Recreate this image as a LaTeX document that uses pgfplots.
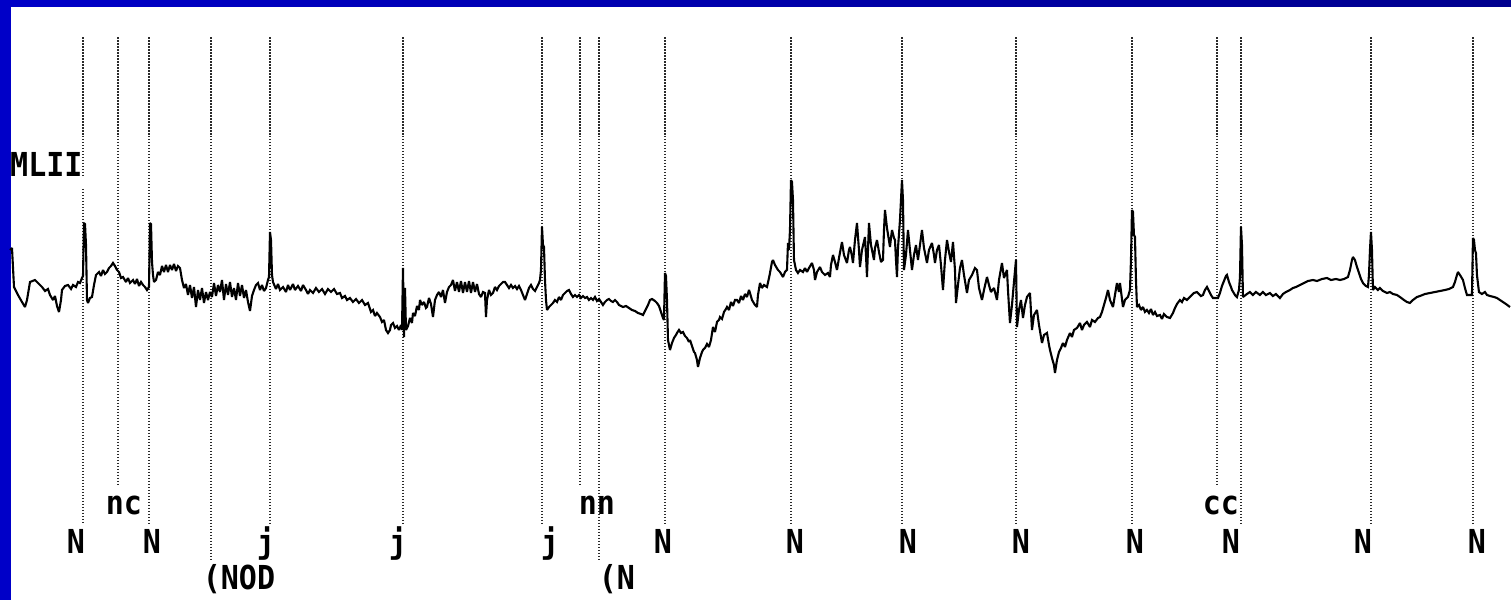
\documentclass[border=0pt]{standalone}
\usepackage{pgfplots}
\pgfplotsset{compat=1.18}
\usepackage{fontspec}
\newfontfamily\pix{DejaVu Sans Mono}
\definecolor{frameblue}{HTML}{0000C8}
\definecolor{framenavy}{HTML}{00008E}
\definecolor{dotgray}{HTML}{2A2A2A}
\newcommand{\lab}[1]{\scalebox{1}[1.1]{\pix\bfseries\fontsize{30}{30}\selectfont #1}}
\pgfplotsset{annot/.style={dotgray, line width=1.7pt, dash pattern=on 1.5pt off 1.5pt}}
\begin{document}
\begin{tikzpicture}
\begin{axis}[scale only axis, width=1511pt, height=600pt,
  xmin=0, xmax=1511, ymin=0, ymax=600, y dir=reverse,
  hide axis, clip=false]
\fill[white] (axis cs:0,0) rectangle (axis cs:1511,600);
\fill[frameblue] (axis cs:0,0) rectangle (axis cs:11,600);
\shade[left color=frameblue, right color=framenavy] (axis cs:0,0) rectangle (axis cs:1511,6);
% annotation lines
\addplot[annot] coordinates {(83,37) (83,177)};
\addplot[annot] coordinates {(83,189) (83,525)};
\addplot[annot] coordinates {(118,37) (118,487)};
\addplot[annot] coordinates {(149,37) (149,525)};
\addplot[annot] coordinates {(211,37) (211,562)};
\addplot[annot] coordinates {(270,37) (270,525)};
\addplot[annot] coordinates {(403,37) (403,525)};
\addplot[annot] coordinates {(542,37) (542,525)};
\addplot[annot] coordinates {(580,37) (580,487)};
\addplot[annot] coordinates {(599,37) (599,562)};
\addplot[annot] coordinates {(665,37) (665,525)};
\addplot[annot] coordinates {(791,37) (791,525)};
\addplot[annot] coordinates {(902,37) (902,525)};
\addplot[annot] coordinates {(1016,37) (1016,525)};
\addplot[annot] coordinates {(1132,37) (1132,525)};
\addplot[annot] coordinates {(1217,37) (1217,487)};
\addplot[annot] coordinates {(1241,37) (1241,525)};
\addplot[annot] coordinates {(1371,37) (1371,525)};
\addplot[annot] coordinates {(1473,37) (1473,525)};
% signal
\addplot[black, line width=2.1pt, line join=miter, miter limit=2] coordinates {
(10,250) (12,248) (14,287) (18,295) (22,302) (25,307) (27,300) (30,282) (35,280) (38,283) (42,287) (45,291) (48,289) (50,295) (53,300) (55,296) (57,306) (59,312) (61,300) (62,290) (65,286) (68,285) (71,289) (73,285) (76,287) (78,282) (80,283) (82,278) (83,276)
(84,223) (85,224) (86,245) (87,300) (88,303) (90,298) (92,297) (94,285) (96,275) (99,272) (101,276) (103,270) (105,274) (107,272) (109,268) (111,266) (113,263) (115,266) (117,270) (119,272) (121,278) (123,277) (126,282) (128,278) (130,283) (133,280) (135,284) (137,279) (139,286) (141,282) (143,285) (145,287) (147,290) (149,287)
(150,223) (151,224) (152,262) (153,275) (154,282) (156,280) (158,272) (160,275) (162,266) (164,272) (166,265) (168,272) (170,265) (172,270) (174,264) (176,271) (178,266) (180,268) (182,280) (184,288) (186,284) (188,295) (190,285) (192,298) (194,287) (196,307) (198,290) (200,300) (202,288) (204,303) (206,292) (208,300) (210,292) (212,297) (214,283) (216,296) (218,285) (220,292) (222,280) (224,300) (226,284) (228,295) (230,282) (232,297) (234,288) (236,300) (238,283) (240,296) (242,285) (244,298) (246,290) (248,302) (250,311) (252,296) (254,290) (256,285) (258,283) (260,290) (262,285) (264,291) (266,288) (268,280) (269,277)
(270,232) (271,240) (272,275) (273,282) (276,289) (278,284) (280,290) (283,287) (286,292) (288,285) (290,290) (293,284) (295,290) (298,286) (301,291) (303,285) (306,290) (308,294) (310,290) (313,293) (316,288) (319,292) (322,289) (325,294) (328,289) (331,292) (334,289) (337,294) (340,293) (342,298) (345,296) (347,300) (350,298) (353,302) (356,299) (359,303) (362,300) (365,305) (368,303) (371,312) (373,310) (375,316) (377,313) (380,317) (382,322) (384,320) (386,330) (388,333) (390,330)
(391,325) (393,323) (395,328) (397,326) (399,330) (401,325) (402,330)
(403,268) (404,337) (405,288) (406,330) (408,326) (410,318) (412,323) (413,313) (415,316) (417,306) (419,310) (420,300) (422,305) (424,302) (426,308) (427,307) (429,298) (431,304) (433,317) (435,300) (437,295) (439,292) (441,297) (443,290) (445,303) (447,292) (449,287) (451,285) (453,280) (455,291) (457,282) (459,292) (461,281) (463,293) (465,282) (467,292) (469,281) (471,293) (473,282) (475,292) (477,284) (479,294) (481,297) (483,292) (485,293) (486,317) (487,300) (489,290) (491,295) (493,293) (495,287) (497,290) (499,286) (501,284) (503,282) (505,282) (507,285) (509,288) (511,285) (513,288) (515,286) (517,289) (519,286) (521,290) (523,295) (525,300) (527,294) (529,288) (531,285) (533,289) (535,291) (537,287) (539,283) (540,280)
(541,270) (542,227) (543,245) (544,247) (545,280) (546,300) (547,310) (549,307) (551,305) (553,303) (555,300) (557,302) (559,297) (561,300) (563,295) (565,293) (567,291) (569,290) (571,294) (573,297) (575,295) (577,297) (579,295) (581,298) (583,296) (585,298) (587,297) (589,300) (591,298) (593,300) (595,297) (597,301) (599,299) (601,302) (603,305) (605,302) (607,300) (609,299) (611,301) (613,302) (615,300) (617,302) (619,305) (621,306) (623,307) (626,306) (629,308) (632,310) (635,311) (638,313) (641,314) (643,315) (645,311) (648,305) (650,300) (652,299) (655,301) (657,303) (659,306) (661,312) (663,318) (664,320)
(665,273) (666,276) (667,300) (668,340) (670,350) (672,343) (674,338) (676,335) (677,333) (679,330) (681,333) (683,332) (685,336) (687,338) (689,342) (690,340) (692,346) (694,352) (695,353) (697,360) (698,367) (700,358) (702,352) (703,350) (705,348) (707,344) (709,347) (711,340) (713,327) (715,332) (717,322) (719,320) (720,317) (722,319) (724,312) (726,309) (727,307) (729,310) (731,302) (733,306) (735,300) (737,300) (739,303) (741,296) (743,300) (745,294) (747,297) (749,290) (750,293)
(752,300) (755,305) (757,307) (758,295) (760,283) (762,288) (764,285) (767,287) (769,278) (770,273) (772,262) (773,260) (775,265) (778,270) (780,272) (783,277) (785,272) (787,270) (788,243)
(789,250) (790,230) (791,180) (792,182) (793,200) (794,260) (796,270) (798,273) (800,270) (803,272) (805,268) (807,272) (809,268) (812,263) (814,270) (815,280) (817,272) (820,267) (822,272) (825,275) (828,273) (830,277) (831,265) (833,255) (835,262) (837,270) (839,258) (842,242) (844,255) (847,263) (849,250) (850,247) (852,256) (853,263) (855,240) (857,223) (859,250) (860,267) (862,250) (865,237) (866,255) (867,277) (868,250) (869,223) (871,245) (874,260) (875,248) (877,240) (879,252) (881,262) (883,260) (884,230) (885,210) (887,228) (890,247) (891,238) (892,230) (894,238) (895,240) (896,260) (897,277) (898,248) (900,220) (901,200)
(902,180) (903,200) (904,270) (906,255) (908,230) (910,250) (912,270) (914,255) (916,245) (918,260) (920,245) (922,230) (924,248) (927,263) (929,250) (932,243) (934,255) (935,263) (937,250) (939,245) (941,265) (943,290) (945,260) (947,240) (949,252) (951,262) (953,242) (955,270) (956,303) (958,285) (960,268) (962,260) (964,275) (967,293) (969,280) (972,275) (975,268) (977,270) (979,288) (982,300) (984,290) (987,277) (989,285) (991,292) (994,288) (997,300) (999,280) (1002,263) (1004,278) (1007,270) (1008,290) (1010,323) (1012,305) (1014,282)
(1016,260) (1017,327) (1019,310) (1021,300) (1023,318) (1025,305) (1027,297) (1030,293) (1032,330) (1034,315) (1037,310) (1039,325) (1042,343) (1044,335) (1047,333) (1049,345) (1050,350) (1052,358) (1054,365) (1055,373) (1057,360) (1059,352) (1061,348) (1063,343) (1065,347) (1067,340) (1070,333) (1072,337) (1074,330) (1077,328) (1080,323) (1082,330) (1084,325) (1087,322) (1090,327) (1092,320) (1095,322) (1098,318) (1100,317) (1102,312) (1104,305) (1106,298) (1108,290) (1110,300) (1113,307) (1115,295) (1117,283) (1119,292) (1120,283)
(1123,307) (1125,300) (1128,297) (1130,290) (1131,260)
(1132,210) (1133,212) (1134,235) (1135,237) (1136,280) (1137,307) (1139,305) (1141,310) (1143,307) (1145,312) (1147,310) (1149,313) (1151,309) (1153,315) (1155,312) (1157,316) (1160,315) (1162,319) (1164,314) (1167,317) (1170,318) (1173,313) (1175,308) (1177,304) (1180,300) (1182,302) (1184,298) (1187,300) (1190,297) (1192,295) (1194,293) (1197,292) (1199,294) (1201,296) (1203,295) (1205,290) (1207,287) (1209,291) (1211,295) (1213,298) (1216,298) (1218,298) (1220,293) (1222,286) (1224,281) (1226,276) (1227,275) (1229,282) (1231,287) (1232,290) (1235,295) (1237,297) (1239,290) (1240,277)
(1241,227) (1242,245) (1243,297) (1247,294) (1250,292) (1253,295) (1256,292) (1260,295) (1263,292) (1266,295) (1270,293) (1273,296) (1276,294) (1280,298) (1283,294) (1286,292) (1290,290) (1293,288) (1296,287) (1300,285) (1304,283) (1308,281) (1313,280) (1317,281) (1322,279) (1327,278) (1331,280) (1336,279) (1340,280) (1344,279) (1348,277) (1350,270) (1352,260) (1353,257) (1355,260) (1357,267) (1359,273) (1361,279) (1363,283) (1366,286) (1368,287) (1369,275)
(1370,250) (1371,232) (1372,250) (1373,290) (1375,287) (1378,290) (1380,288) (1383,291) (1387,293) (1390,292) (1393,294) (1397,295) (1400,297) (1404,300) (1407,302) (1410,303) (1413,300) (1417,297) (1420,296) (1425,294) (1430,293) (1435,292) (1440,291) (1445,290) (1449,289) (1453,287) (1455,282) (1457,275) (1458,272) (1460,275) (1463,280) (1465,288) (1467,295) (1470,295) (1472,295)
(1473,238) (1474,240) (1475,250) (1476,253) (1477,275) (1479,292) (1482,294) (1485,292) (1487,295) (1490,296) (1494,297) (1497,298) (1500,300) (1503,302) (1506,304) (1510,307)
};
% labels
\node[anchor=base west, inner sep=0pt] at (axis cs:10,177) {\lab{MLII}};
\node[anchor=base, inner sep=0pt] at (axis cs:76,554) {\lab{N}};
\node[anchor=base, inner sep=0pt] at (axis cs:152,554) {\lab{N}};
\node[anchor=base, inner sep=0pt] at (axis cs:663,554) {\lab{N}};
\node[anchor=base, inner sep=0pt] at (axis cs:795,554) {\lab{N}};
\node[anchor=base, inner sep=0pt] at (axis cs:908,554) {\lab{N}};
\node[anchor=base, inner sep=0pt] at (axis cs:1021,554) {\lab{N}};
\node[anchor=base, inner sep=0pt] at (axis cs:1135,554) {\lab{N}};
\node[anchor=base, inner sep=0pt] at (axis cs:1231,554) {\lab{N}};
\node[anchor=base, inner sep=0pt] at (axis cs:1363,554) {\lab{N}};
\node[anchor=base, inner sep=0pt] at (axis cs:1477,554) {\lab{N}};
\node[anchor=base, inner sep=0pt] at (axis cs:266,554) {\lab{j}};
\node[anchor=base, inner sep=0pt] at (axis cs:398,554) {\lab{j}};
\node[anchor=base, inner sep=0pt] at (axis cs:550,554) {\lab{j}};
\node[anchor=base, inner sep=0pt] at (axis cs:124,515) {\lab{nc}};
\node[anchor=base, inner sep=0pt] at (axis cs:597,515) {\lab{nn}};
\node[anchor=base, inner sep=0pt] at (axis cs:1221,515) {\lab{cc}};
\node[anchor=base, inner sep=0pt] at (axis cs:239,590) {\lab{(NOD}};
\node[anchor=base, inner sep=0pt] at (axis cs:617,590) {\lab{(N}};
\end{axis}
\end{tikzpicture}
\end{document}
